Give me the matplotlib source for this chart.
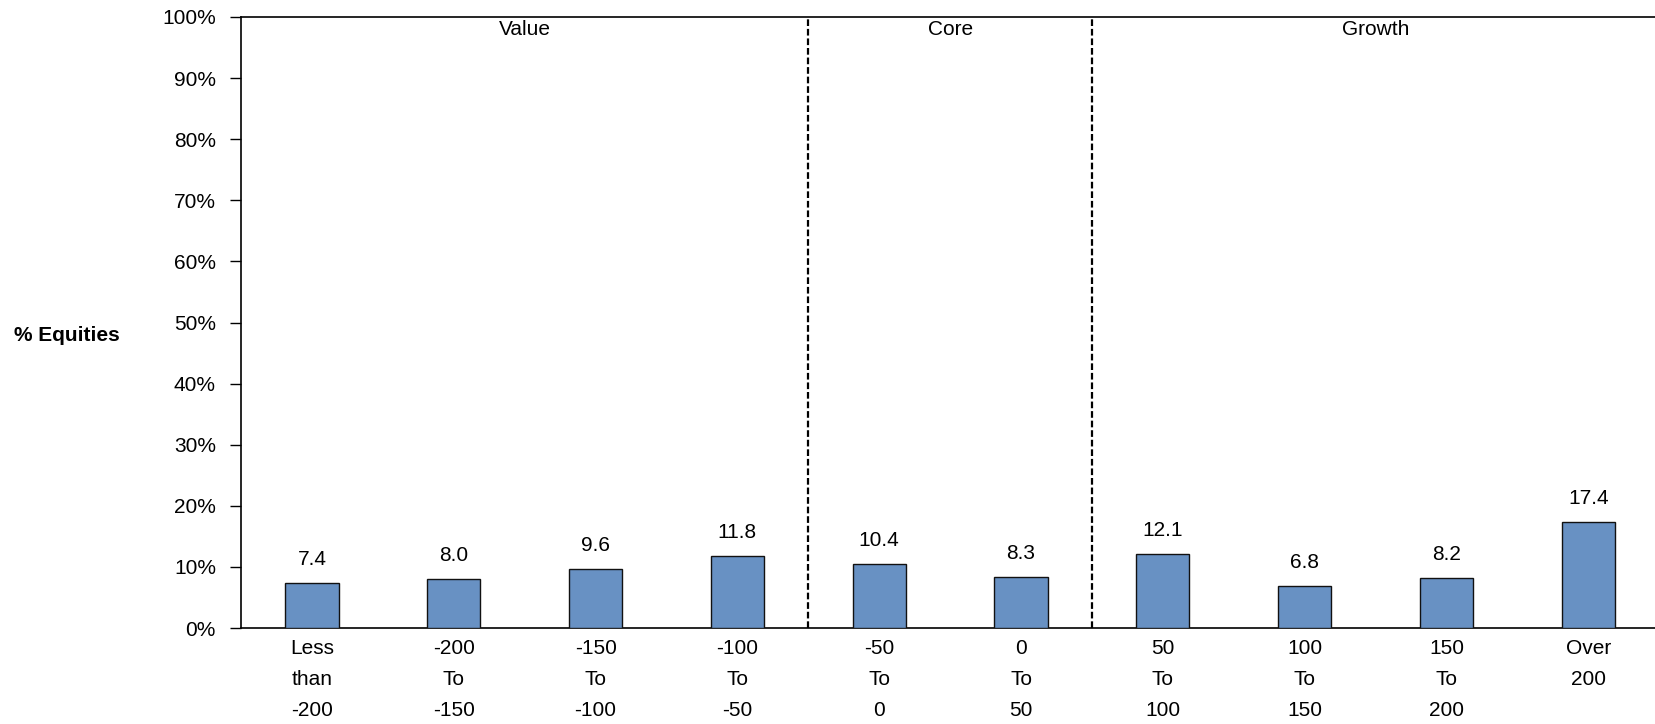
import matplotlib
matplotlib.use("Agg")
import matplotlib.pyplot as plt
from matplotlib.ticker import FuncFormatter

plt.rcParams['font.family'] = ['Liberation Sans', 'DejaVu Sans']

categories = ["Less\nthan\n-200", "-200\nTo\n-150", "-150\nTo\n-100", "-100\nTo\n-50",
              "-50\nTo\n0", "0\nTo\n50", "50\nTo\n100", "100\nTo\n150", "150\nTo\n200", "Over\n200"]
values = [7.4, 8.0, 9.6, 11.8, 10.4, 8.3, 12.1, 6.8, 8.2, 17.4]
groups = ["Value", "Core", "Growth"]
group_ranges = [(0, 3), (4, 5), (6, 9)]

W, H = 1655, 724
fig = plt.figure(figsize=(W / 100, H / 100), dpi=100)
ax = fig.add_axes([241 / W, 1 - 628 / H, 1 - 241 / W, (628 - 17) / H])

x = list(range(len(values)))
ax.bar(x, values, width=0.375, color="#6891c3", edgecolor="#111111", linewidth=1.0, zorder=3)
for xi, v in zip(x, values):
    ax.annotate(f"{v:.1f}", (xi, v), xytext=(0, 17), textcoords="offset points",
                ha="center", va="center", fontsize=15)

ax.set_xlim(-0.5, 9.47)
ax.set_ylim(0, 100)
ax.set_yticks(range(0, 101, 10))
ax.yaxis.set_major_formatter(FuncFormatter(lambda v, p: f"{int(v)}%"))
ax.set_xticks(x)
ax.set_xticklabels(categories, fontsize=15, linespacing=1.81)
ax.tick_params(axis='x', length=0, pad=8)
ax.tick_params(axis='y', length=8, width=1, labelsize=15, pad=10)

for (a, b) in group_ranges[:-1]:
    ax.axvline(b + 0.5, color="black", linestyle=(0, (3, 1.3)), linewidth=1.6)
for g, (a, b) in zip(groups, group_ranges):
    ax.text((a + b) / 2, 97.9, g, ha="center", va="center", fontsize=15)

for s in ["left", "bottom", "top"]:
    ax.spines[s].set_linewidth(1.2)
ax.spines["right"].set_visible(False)

fig.text(67 / W, 1 - 336 / H, "% Equities", ha="center", va="center",
         fontsize=15, fontweight="bold")

fig.savefig("out.png", dpi=100)
